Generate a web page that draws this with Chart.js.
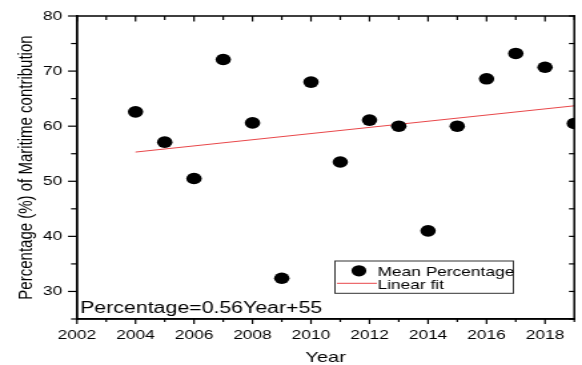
<!DOCTYPE html>
<html>
<head>
<meta charset="utf-8">
<script src="https://cdn.jsdelivr.net/npm/chart.js@4.4.1/dist/chart.umd.min.js"></script>
<style>
  body { margin: 0; background: #fff; }
  #wrap { width: 582px; height: 365px; overflow: hidden; }
</style>
</head>
<body>
<div id="wrap"><canvas id="meanChart" width="437" height="365" style="width:582px;height:365px;display:block"></canvas></div>
<script>
var years = [2004, 2005, 2006, 2007, 2008, 2009, 2010, 2011, 2012, 2013, 2014, 2015, 2016, 2017, 2018, 2019];
var meanPercentage = [62.6, 57.1, 50.5, 72.1, 60.6, 32.4, 68.0, 53.5, 61.1, 60.0, 41.0, 60.0, 68.6, 73.2, 70.7, 60.5];
var fitYears = [2004, 2019];
var fitValues = [55.3, 63.7];
var xTickLabels = ['2002', '2004', '2006', '2008', '2010', '2012', '2014', '2016', '2018'];
var yTickLabels = ['30', '40', '50', '60', '70', '80'];
var equationText = 'Percentage=0.56Year+55';

var FONT = "'Liberation Sans', Arial, sans-serif";

// frame, tick marks on all four sides, equation and the in-plot legend box
var framePlugin = {
    id: 'frame',
    afterDraw: function (chart) {
        var ctx = chart.ctx;
        var a = chart.chartArea;
        var xs = chart.scales.x;
        var ys = chart.scales.y;
        var left = a.left, right = a.right, top = a.top, bottom = a.bottom;

        ctx.save();
        ctx.fillStyle = '#000';
        ctx.fillRect(left - 0.75, top - 0.75, right - left + 1.5, 1.5);
        ctx.fillRect(left - 0.75, bottom - 0.75, right - left + 1.5, 1.5);
        ctx.fillRect(left - 0.75, top - 0.75, 1.5, bottom - top + 1.5);
        ctx.fillRect(right - 0.75, top - 0.75, 1.5, bottom - top + 1.5);

        // out on bottom/left, in on top/right
        xs.ticks.forEach(function (t) {
            var px = xs.getPixelForValue(t.value);
            var major = xTickLabels.indexOf(String(t.value)) >= 0;
            ctx.fillRect(px - 0.6, bottom, 1.2, major ? 5 : 3);
            ctx.fillRect(px - 0.6, top, 1.2, major ? 5.5 : 4);
        });
        ys.ticks.forEach(function (t) {
            var py = ys.getPixelForValue(t.value);
            var major = yTickLabels.indexOf(String(t.value)) >= 0;
            var len = major ? 6.8 : 4.5;
            ctx.fillRect(left - len, py - 0.6, len, 1.2);
            ctx.fillRect(right - 4, py - 0.6, 4, 1.2);
        });

        // equation
        ctx.font = '16px ' + FONT;
        ctx.textBaseline = 'alphabetic';
        ctx.textAlign = 'left';
        ctx.fillText(equationText, 60.2, 312.5);

        // legend box
        var bx = 251.5, by = 261, bw = 134, bh = 32.3;
        ctx.fillStyle = '#fff';
        ctx.fillRect(bx, by, bw, bh);
        ctx.lineWidth = 1;
        ctx.strokeStyle = '#333';
        ctx.strokeRect(bx, by, bw, bh);

        var ds = chart.data.datasets;
        ctx.fillStyle = '#000';
        ctx.beginPath();
        ctx.arc(bx + 18, by + 9.8, 5.6, 0, Math.PI * 2);
        ctx.fill();
        ctx.strokeStyle = ds[1].borderColor;
        ctx.beginPath();
        ctx.moveTo(bx + 1.5, by + 22.3);
        ctx.lineTo(bx + 31.5, by + 22.3);
        ctx.stroke();

        ctx.fillStyle = '#000';
        ctx.font = '13px ' + FONT;
        ctx.fillText(ds[0].label, bx + 32, by + 14.5);
        ctx.fillText(ds[1].label, bx + 32, by + 28.3);
        ctx.restore();
    }
};

var ctx = document.getElementById('meanChart').getContext('2d');

var meanChart = new Chart(ctx, {
    type: 'scatter',
    data: {
        datasets: [
            {
                label: 'Mean Percentage',
                data: years.map((y, i) => ({ x: y, y: meanPercentage[i] })),
                backgroundColor: '#000',
                borderWidth: 0,
                pointRadius: 5.8,
                pointHoverRadius: 5.8,
                clip: 0
            },
            {
                label: 'Linear fit',
                type: 'line',
                data: fitYears.map((y, i) => ({ x: y, y: fitValues[i] })),
                borderColor: '#e8474a',
                borderWidth: 1,
                pointRadius: 0,
                fill: false,
                clip: 0
            }
        ]
    },
    options: {
        responsive: false,
        animation: false,
        layout: {
            padding: { left: 0, right: 3.2, top: 16, bottom: 0 }
        },
        plugins: {
            legend: { display: false },
            tooltip: { enabled: false }
        },
        scales: {
            x: {
                type: 'linear',
                min: 2002,
                max: 2019,
                afterFit: function (scale) {
                    scale.height = 46;
                    scale.paddingLeft = 0;
                    scale.paddingRight = 0;
                },
                ticks: {
                    stepSize: 1,
                    autoSkip: false,
                    maxRotation: 0,
                    padding: 9,
                    color: '#000',
                    font: { family: FONT, size: 13 },
                    callback: function (v) {
                        return xTickLabels.indexOf(String(v)) >= 0 ? String(v) : '';
                    }
                },
                grid: { display: false, drawTicks: false },
                border: { display: true, color: '#000', width: 1.5 },
                title: {
                    display: true,
                    text: 'Year',
                    color: '#000',
                    font: { family: FONT, size: 15 },
                    padding: { top: 0, bottom: -2 }
                }
            },
            y: {
                min: 25,
                max: 80,
                afterFit: function (scale) {
                    scale.width = 57.8;
                    scale.paddingTop = 0;
                    scale.paddingBottom = 0;
                },
                ticks: {
                    stepSize: 5,
                    autoSkip: false,
                    padding: 11,
                    color: '#000',
                    font: { family: FONT, size: 13 },
                    callback: function (v) {
                        return yTickLabels.indexOf(String(v)) >= 0 ? String(v) : '';
                    }
                },
                grid: { display: false, drawTicks: false },
                border: { display: true, color: '#000', width: 1.5 },
                title: {
                    display: true,
                    text: 'Percentage (%) of Maritime contribution',
                    color: '#000',
                    font: { family: FONT, size: 15 },
                    padding: { top: 11, bottom: 0 }
                }
            }
        }
    },
    plugins: [framePlugin]
});
</script>
</body>
</html>
